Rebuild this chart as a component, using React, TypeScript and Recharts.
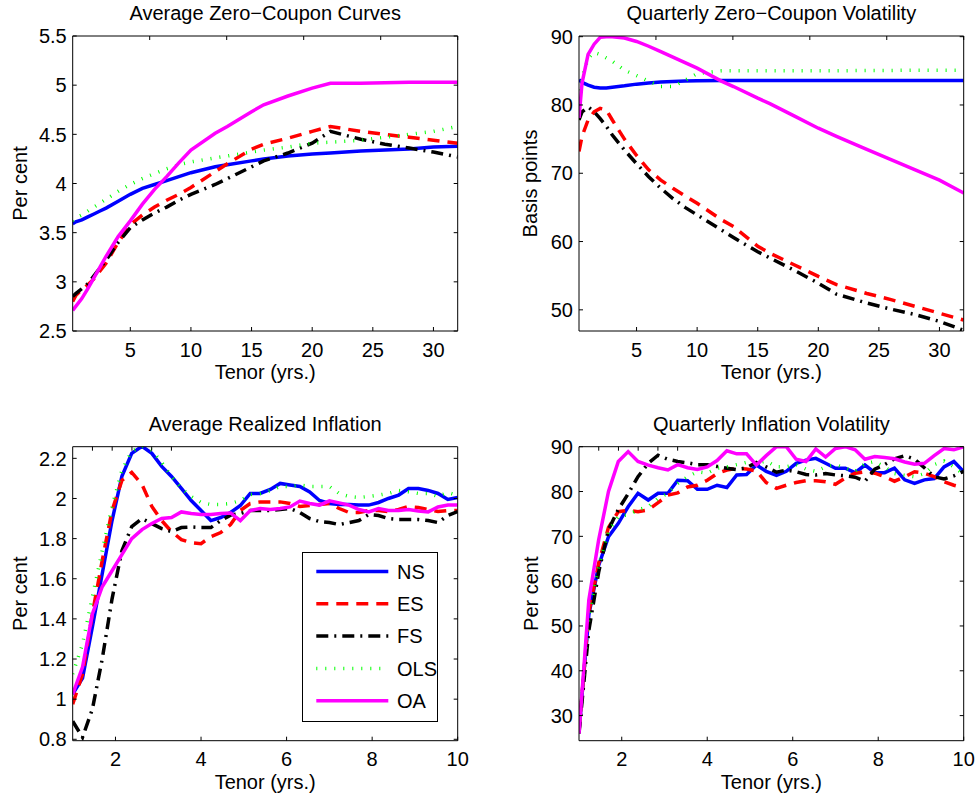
import React from "react";
import { LineChart, Line, XAxis, YAxis, Legend } from "recharts";

const FONT = '"Liberation Sans", Arial, Helvetica, sans-serif';
const FONT_SIZE = 20;
const TICK_LEN = 4;

// ---- zero-coupon panels (tenor in years) ----
const ZC_TENORS = [0.25, 0.5, 1, 1.5, 2, 2.5, 3, 4, 5, 6, 7, 8, 9, 10, 12, 13, 15, 16, 18, 20, 21.5, 24, 26, 28, 30, 32];

const ZC_MEAN_NS = [3.59, 3.61, 3.63, 3.66, 3.69, 3.72, 3.75, 3.82, 3.89, 3.95, 3.99, 4.03, 4.07, 4.11, 4.17, 4.19, 4.23, 4.25, 4.28, 4.3, 4.31, 4.33, 4.34, 4.35, 4.37, 4.38];
const ZC_MEAN_ES = [2.8, 2.86, 2.92, 2.97, 3.03, 3.11, 3.19, 3.4, 3.58, 3.68, 3.76, 3.83, 3.89, 3.96, 4.12, 4.2, 4.35, 4.4, 4.46, 4.53, 4.58, 4.53, 4.5, 4.47, 4.44, 4.41];
const ZC_MEAN_FS = [2.85, 2.88, 2.93, 2.98, 3.06, 3.14, 3.22, 3.4, 3.55, 3.63, 3.7, 3.76, 3.83, 3.89, 3.99, 4.05, 4.17, 4.23, 4.31, 4.41, 4.53, 4.45, 4.4, 4.36, 4.32, 4.27];
const ZC_MEAN_OLS = [3.62, 3.65, 3.68, 3.72, 3.76, 3.8, 3.84, 3.92, 3.99, 4.05, 4.1, 4.15, 4.19, 4.22, 4.26, 4.28, 4.32, 4.34, 4.37, 4.41, 4.42, 4.44, 4.47, 4.5, 4.53, 4.58];
const ZC_MEAN_OA = [2.71, 2.75, 2.83, 2.93, 3.04, 3.15, 3.26, 3.46, 3.62, 3.79, 3.94, 4.07, 4.21, 4.34, 4.51, 4.58, 4.73, 4.8, 4.89, 4.97, 5.02, 5.02, 5.025, 5.03, 5.03, 5.03];

const ZC_VOL_NS = [83.7, 83.3, 82.9, 82.6, 82.5, 82.5, 82.6, 82.8, 83.05, 83.2, 83.35, 83.45, 83.5, 83.55, 83.6, 83.6, 83.6, 83.6, 83.6, 83.6, 83.6, 83.6, 83.6, 83.6, 83.6, 83.6];
const ZC_VOL_ES = [73.2, 75.4, 77.8, 79.0, 79.5, 79.3, 77.8, 75.0, 72.6, 70.5, 69.0, 67.8, 66.7, 65.6, 63.2, 62.2, 59.3, 58.3, 56.6, 54.9, 53.7, 52.4, 51.5, 50.5, 49.5, 48.5];
const ZC_VOL_FS = [77.8, 79.0, 79.7, 79.0, 78.0, 76.9, 75.6, 73.4, 71.4, 69.5, 67.8, 66.3, 65.0, 63.9, 61.7, 60.6, 58.5, 57.6, 55.8, 53.9, 52.3, 51.0, 50.1, 49.3, 48.3, 47.0];
const ZC_VOL_OLS = [79.5, 84.0, 86.8, 87.7, 87.4, 86.9, 86.4, 85.1, 84.3, 83.5, 82.7, 82.7, 83.6, 84.6, 85.0, 85.0, 85.0, 85.0, 85.0, 85.0, 85.0, 85.05, 85.05, 85.1, 85.1, 85.1];
const ZC_VOL_OA = [78.1, 83.2, 87.4, 88.9, 89.9, 90.0, 90.0, 89.8, 89.3, 88.6, 87.8, 87.0, 86.2, 85.4, 83.5, 82.7, 81.0, 80.2, 78.4, 76.6, 75.4, 73.5, 72.0, 70.5, 69.0, 67.1];

// ---- inflation panels ----
const INF_TENORS = [1, 1.23, 1.46, 1.69, 1.92, 2.15, 2.38, 2.62, 2.85, 3.08, 3.31, 3.54, 3.77, 4, 4.23, 4.46, 4.69, 4.92, 5.15, 5.38, 5.62, 5.85, 6.08, 6.31, 6.54, 6.77, 7, 7.23, 7.46, 7.69, 7.92, 8.15, 8.38, 8.62, 8.85, 9.08, 9.31, 9.54, 9.77, 10];

const INF_MEAN_NS = [1.025, 1.105, 1.36, 1.625, 1.89, 2.11, 2.225, 2.26, 2.225, 2.16, 2.11, 2.05, 1.99, 1.94, 1.89, 1.905, 1.93, 1.965, 2.025, 2.025, 2.045, 2.075, 2.067, 2.06, 2.033, 1.99, 1.975, 1.97, 1.97, 1.967, 1.967, 1.98, 2.0, 2.017, 2.05, 2.05, 2.04, 2.025, 1.995, 2.005];
const INF_MEAN_ES = [0.975, 1.125, 1.425, 1.69, 1.94, 2.09, 2.13, 2.07, 1.96, 1.89, 1.835, 1.795, 1.78, 1.775, 1.81, 1.83, 1.87, 1.94, 1.975, 1.983, 1.983, 1.983, 1.975, 1.96, 1.965, 1.97, 1.975, 1.95, 1.93, 1.93, 1.94, 1.94, 1.935, 1.945, 1.96, 1.955, 1.945, 1.935, 1.94, 1.94];
const INF_MEAN_FS = [0.89, 0.81, 0.95, 1.2, 1.5, 1.74, 1.86, 1.9, 1.875, 1.85, 1.835, 1.855, 1.858, 1.855, 1.855, 1.89, 1.917, 1.925, 1.94, 1.94, 1.94, 1.945, 1.95, 1.93, 1.9, 1.885, 1.88, 1.87, 1.88, 1.89, 1.92, 1.915, 1.9, 1.895, 1.895, 1.895, 1.89, 1.88, 1.915, 1.935];
const INF_MEAN_OLS = [1.125, 1.275, 1.51, 1.74, 1.96, 2.14, 2.235, 2.26, 2.24, 2.18, 2.11, 2.05, 2.01, 1.98, 1.97, 1.97, 1.975, 1.99, 2.02, 2.025, 2.04, 2.06, 2.06, 2.067, 2.06, 2.06, 2.06, 2.025, 2.01, 2.005, 2.01, 2.017, 2.025, 2.04, 2.033, 2.025, 2.025, 2.01, 2.03, 2.015];
const INF_MEAN_OA = [1.025, 1.16, 1.425, 1.56, 1.64, 1.72, 1.8, 1.845, 1.875, 1.9, 1.905, 1.933, 1.925, 1.92, 1.92, 1.925, 1.928, 1.89, 1.94, 1.95, 1.945, 1.95, 1.958, 1.987, 1.975, 1.967, 1.988, 1.978, 1.967, 1.945, 1.933, 1.95, 1.94, 1.94, 1.945, 1.938, 1.933, 1.958, 1.967, 1.967];

const INF_VOL_NS = [26.5, 52.5, 63.5, 69.9, 72.9, 76.6, 79.6, 78.1, 79.6, 79.6, 82.5, 82.4, 80.5, 80.5, 81.4, 80.9, 83.7, 83.8, 85.9, 84.5, 83.6, 84.5, 86.3, 87.0, 87.4, 86.3, 85.2, 85.2, 84.2, 85.9, 84.2, 84.2, 85.2, 82.6, 81.8, 82.6, 82.9, 85.5, 86.7, 84.4];
const INF_VOL_ES = [26.5, 53, 64, 72, 75.5, 75.8, 75.5, 75.9, 77.5, 79.2, 79.7, 81.0, 81.4, 82.5, 84.0, 84.8, 85.2, 85.0, 84.6, 82.0, 80.7, 81.4, 82.0, 82.4, 82.4, 82.2, 81.6, 83.0, 84.1, 84.4, 84.1, 83.3, 82.3, 83.3, 84.4, 84.1, 83.3, 82.2, 81.4, 80.8];
const INF_VOL_FS = [26, 49, 62, 71.5, 76, 79.5, 83.3, 86.3, 88.1, 87.2, 86.7, 86.4, 86.0, 86.0, 85.6, 85.2, 84.9, 85.3, 86.5, 85.5, 84.3, 84.8, 84.4, 83.8, 83.7, 84.0, 83.7, 83.5, 83.2, 82.3, 85.0, 86.0, 87.3, 88.0, 87.2, 85.3, 83.3, 82.8, 83.5, 84.5];
const INF_VOL_OLS = [27, 52, 63.5, 71, 74.5, 74.8, 75.9, 76.6, 78.5, 79.6, 81.8, 83.3, 84.4, 84.1, 85.2, 85.5, 86.0, 86.5, 86.3, 86.8, 85.5, 85.5, 86.0, 85.0, 84.5, 85.5, 86.0, 85.2, 84.5, 86.2, 86.7, 85.5, 84.0, 83.6, 83.3, 84.0, 86.0, 86.8, 85.5, 83.8];
const INF_VOL_OA = [26, 55.8, 69.2, 80.0, 86.7, 88.9, 86.7, 85.9, 85.3, 84.8, 86.0, 85.3, 84.9, 85.5, 86.9, 89.1, 88.4, 88.4, 85.9, 88.0, 90.0, 90.0, 87.2, 86.7, 89.5, 87.7, 89.6, 90.0, 89.3, 87.2, 87.8, 87.6, 87.3, 86.6, 86.1, 86.3, 88.0, 89.6, 89.3, 90.0];

// tick labels
const ZC_X_TICKS = [5, 10, 15, 20, 25, 30];
const INF_X_TICKS = [2, 4, 6, 8, 10];
const ZC_MEAN_Y_TICKS = [2.5, 3, 3.5, 4, 4.5, 5, 5.5];
const ZC_VOL_Y_TICKS = [50, 60, 70, 80, 90];
const INF_MEAN_Y_TICKS = [0.8, 1, 1.2, 1.4, 1.6, 1.8, 2, 2.2];
const INF_VOL_Y_TICKS = [30, 40, 50, 60, 70, 80, 90];

const SERIES = [
  { key: "NS", color: "#0000ff", dash: undefined, width: 3.5 },
  { key: "ES", color: "#ff0000", dash: "12 8", width: 3.5 },
  { key: "FS", color: "#000000", dash: "12 6 2 6", width: 3.5 },
  { key: "OLS", color: "#00ff00", dash: "1 8", width: 3.5 },
  { key: "OA", color: "#ff00ff", dash: undefined, width: 3.5 },
];

const rows = (tenors: number[], ns: number[], es: number[], fs: number[], ols: number[], oa: number[]) =>
  tenors.map((t, i) => ({ t, NS: ns[i], ES: es[i], FS: fs[i], OLS: ols[i], OA: oa[i] }));

const textProps = { fontSize: FONT_SIZE, fontFamily: FONT, fill: "#000" };
const HALF_CAP = 7.2; // half cap-height, to centre digits on the tick

const bottomTick = (p: any) => (
  <g>
    <line x1={p.x} x2={p.x} y1={p.y} y2={p.y - TICK_LEN} stroke="#000" />
    <text x={p.x} y={p.y + 25.5} textAnchor="middle" {...textProps}>
      {p.payload.value}
    </text>
  </g>
);
const topTick = (p: any) => <line x1={p.x} x2={p.x} y1={p.y} y2={p.y + TICK_LEN} stroke="#000" />;
const leftTick = (p: any) => (
  <g>
    <line x1={p.x} x2={p.x + TICK_LEN} y1={p.y} y2={p.y} stroke="#000" />
    <text x={p.x - 6} y={p.y + HALF_CAP} textAnchor="end" {...textProps}>
      {p.payload.value}
    </text>
  </g>
);
const rightTick = (p: any) => <line x1={p.x} x2={p.x - TICK_LEN} y1={p.y} y2={p.y} stroke="#000" />;

const LegendBox = () => (
  <svg width={137} height={171} style={{ display: "block" }}>
    <rect x={0.5} y={0.5} width={135} height={169} fill="#fff" stroke="#000" />
    {SERIES.map((s, i) => {
      const cy = 19.5 + i * 32.3;
      return (
        <g key={s.key}>
          <line x1={14.3} x2={86.3} y1={cy} y2={cy} stroke={s.color} strokeWidth={s.width} strokeDasharray={s.dash} />
          <text x={95} y={cy + HALF_CAP} {...textProps}>
            {s.key}
          </text>
        </g>
      );
    })}
  </svg>
);

type PanelProps = {
  box: { left: number; top: number; width: number; height: number };
  plot: { left: number; top: number; width: number; height: number };
  data: any[];
  xDomain: [number, number];
  xTicks: number[];
  yDomain: [number, number];
  yTicks: number[];
  title: string;
  yLabel: string;
  yLabelGap: number;
  legend?: { left: number; top: number };
};

const Panel = ({ box, plot, data, xDomain, xTicks, yDomain, yTicks, title, yLabel, yLabelGap, legend }: PanelProps) => {
  const rightMargin = box.width - plot.left - plot.width - 1;
  const xAxisHeight = box.height - plot.top - plot.height;
  return (
    <div style={{ position: "absolute", left: box.left, top: box.top }}>
      <LineChart
        width={box.width}
        height={box.height}
        data={data}
        margin={{ top: plot.top - 1, right: rightMargin, bottom: 0, left: 0 }}
      >
        <XAxis
          dataKey="t"
          type="number"
          domain={xDomain}
          ticks={xTicks}
          interval={0}
          allowDataOverflow
          height={xAxisHeight}
          tickSize={0}
          tickMargin={0}
          tick={bottomTick}
          axisLine={{ stroke: "#000" }}
          label={(p: any) => {
            const vb = p.viewBox || {};
            return (
              <text x={vb.x + vb.width / 2} y={vb.y + 48} textAnchor="middle" {...textProps}>
                Tenor (yrs.)
              </text>
            );
          }}
        />
        <XAxis
          xAxisId="top"
          orientation="top"
          type="number"
          domain={xDomain}
          ticks={xTicks}
          interval={0}
          allowDataOverflow
          height={1}
          tickSize={0}
          tickMargin={0}
          tick={topTick}
          axisLine={{ stroke: "#000" }}
          label={(p: any) => {
            const vb = p.viewBox || {};
            return (
              <text x={vb.x + vb.width / 2} y={vb.y + vb.height - 16} textAnchor="middle" {...textProps}>
                {title}
              </text>
            );
          }}
        />
        <YAxis
          type="number"
          domain={yDomain}
          ticks={yTicks}
          interval={0}
          allowDataOverflow
          width={plot.left}
          tickSize={0}
          tickMargin={0}
          tick={leftTick}
          axisLine={{ stroke: "#000" }}
          label={(p: any) => {
            const vb = p.viewBox || {};
            const bx = vb.x + vb.width - yLabelGap;
            const cy = vb.y + vb.height / 2;
            return (
              <text transform={`translate(${bx},${cy}) rotate(-90)`} textAnchor="middle" {...textProps}>
                {yLabel}
              </text>
            );
          }}
        />
        <YAxis
          yAxisId="right"
          orientation="right"
          type="number"
          domain={yDomain}
          ticks={yTicks}
          interval={0}
          allowDataOverflow
          width={1}
          tickSize={0}
          tickMargin={0}
          tick={rightTick}
          axisLine={{ stroke: "#000" }}
        />
        {SERIES.map((s) => (
          <Line
            key={s.key}
            type="linear"
            dataKey={s.key}
            name={s.key}
            stroke={s.color}
            strokeWidth={s.width}
            strokeDasharray={s.dash}
            dot={false}
            activeDot={false}
            isAnimationActive={false}
          />
        ))}
        {legend && (
          <Legend
            layout="vertical"
            align="center"
            verticalAlign="middle"
            wrapperStyle={{ left: legend.left, top: legend.top, width: 137, height: 171 }}
            content={() => <LegendBox />}
          />
        )}
      </LineChart>
    </div>
  );
};

export default function App() {
  const zcMean = rows(ZC_TENORS, ZC_MEAN_NS, ZC_MEAN_ES, ZC_MEAN_FS, ZC_MEAN_OLS, ZC_MEAN_OA);
  const zcVol = rows(ZC_TENORS, ZC_VOL_NS, ZC_VOL_ES, ZC_VOL_FS, ZC_VOL_OLS, ZC_VOL_OA);
  const infMean = rows(INF_TENORS, INF_MEAN_NS, INF_MEAN_ES, INF_MEAN_FS, INF_MEAN_OLS, INF_MEAN_OA);
  const infVol = rows(INF_TENORS, INF_VOL_NS, INF_VOL_ES, INF_VOL_FS, INF_VOL_OLS, INF_VOL_OA);

  return (
    <div style={{ position: "absolute", left: 0, top: 0, width: 977, height: 799, background: "#fff" }}>
      <Panel
        box={{ left: 0, top: 0, width: 488, height: 399 }}
        plot={{ left: 72.7, top: 36, width: 385, height: 295 }}
        data={zcMean}
        xDomain={[0.25, 32]}
        xTicks={ZC_X_TICKS}
        yDomain={[2.5, 5.5]}
        yTicks={ZC_MEAN_Y_TICKS}
        title="Average Zero−Coupon Curves"
        yLabel="Per cent"
        yLabelGap={46}
      />
      <Panel
        box={{ left: 488, top: 0, width: 489, height: 399 }}
        plot={{ left: 91, top: 36, width: 384.7, height: 295 }}
        data={zcVol}
        xDomain={[0.25, 32]}
        xTicks={ZC_X_TICKS}
        yDomain={[46.9, 90.1]}
        yTicks={ZC_VOL_Y_TICKS}
        title="Quarterly Zero−Coupon Volatility"
        yLabel="Basis points"
        yLabelGap={42.3}
      />
      <Panel
        box={{ left: 0, top: 399, width: 488, height: 400 }}
        plot={{ left: 72.7, top: 47.7, width: 385, height: 294 }}
        data={infMean}
        xDomain={[1, 10]}
        xTicks={INF_X_TICKS}
        yDomain={[0.793, 2.258]}
        yTicks={INF_MEAN_Y_TICKS}
        title="Average Realized Inflation"
        yLabel="Per cent"
        yLabelGap={46}
        legend={{ left: 301.7, top: 153.3 }}
      />
      <Panel
        box={{ left: 488, top: 399, width: 489, height: 400 }}
        plot={{ left: 91, top: 47.7, width: 384.7, height: 294 }}
        data={infVol}
        xDomain={[1, 10]}
        xTicks={INF_X_TICKS}
        yDomain={[24.4, 90]}
        yTicks={INF_VOL_Y_TICKS}
        title="Quarterly Inflation Volatility"
        yLabel="Per cent"
        yLabelGap={40.7}
      />
    </div>
  );
}
